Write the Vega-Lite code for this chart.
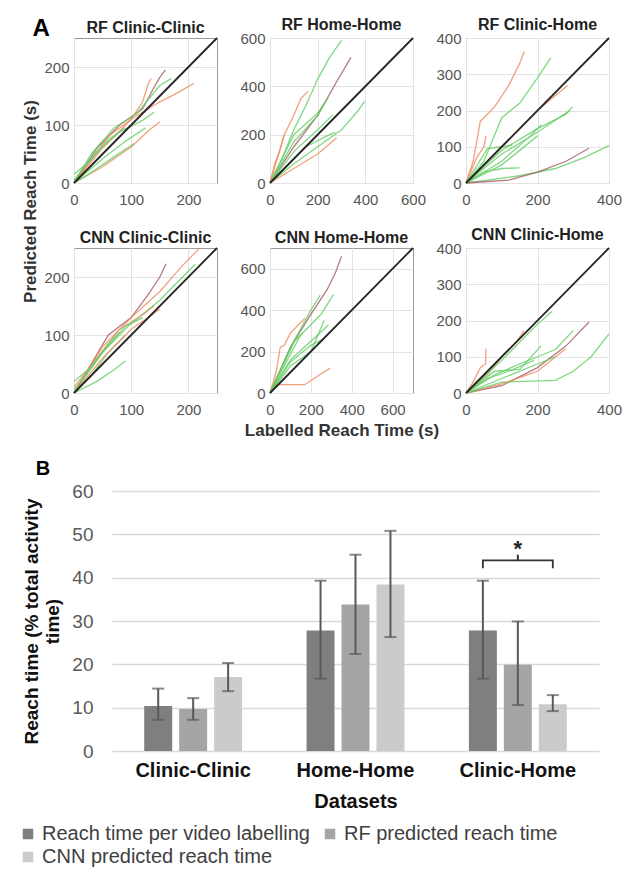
{
  "$schema": "https://vega.github.io/schema/vega-lite/v6.json",
  "padding": {"left": 18, "top": 16, "right": 5, "bottom": 5},
  "background": "white",
  "config": {
    "font": "Liberation Sans",
    "view": {"stroke": "#9a9a9a"},
    "axis": {"labelFont": "Liberation Sans", "labelFontSize": 15, "labelColor": "#555555", "gridColor": "#e3e3e3", "domain": false, "ticks": false, "labelPadding": 5, "labelFlush": false, "titleFont": "Liberation Sans", "titleFontWeight": "bold", "titleColor": "#333333", "titleFontSize": 17},
    "axisX": {"labelPadding": 9},
    "title": {"font": "Liberation Sans", "fontSize": 16, "fontWeight": "bold", "color": "#222222", "frame": "group", "offset": -2},
    "legend": {"labelFont": "Liberation Sans"}
  },
  "datasets": {
    "d250": [{"x": 0, "y": 0}, {"x": 250, "y": 250}],
    "d600": [{"x": 0, "y": 0}, {"x": 600, "y": 600}],
    "d400": [{"x": 0, "y": 0}, {"x": 400, "y": 400}],
    "d700": [{"x": 0, "y": 0}, {"x": 700, "y": 700}],
    "p1": [
      {"t": 1, "c": "o", "x": 0, "y": 0}, {"t": 1, "c": "o", "x": 50, "y": 60}, {"t": 1, "c": "o", "x": 100, "y": 110}, {"t": 1, "c": "o", "x": 150, "y": 140}, {"t": 1, "c": "o", "x": 180, "y": 155}, {"t": 1, "c": "o", "x": 210, "y": 172},
      {"t": 2, "c": "m", "x": 0, "y": 0}, {"t": 2, "c": "m", "x": 40, "y": 60}, {"t": 2, "c": "m", "x": 80, "y": 100}, {"t": 2, "c": "m", "x": 120, "y": 128}, {"t": 2, "c": "m", "x": 140, "y": 165}, {"t": 2, "c": "m", "x": 150, "y": 182}, {"t": 2, "c": "m", "x": 160, "y": 195},
      {"t": 3, "c": "o", "x": 0, "y": 0}, {"t": 3, "c": "o", "x": 30, "y": 40}, {"t": 3, "c": "o", "x": 60, "y": 80}, {"t": 3, "c": "o", "x": 100, "y": 110}, {"t": 3, "c": "o", "x": 120, "y": 140}, {"t": 3, "c": "o", "x": 130, "y": 172}, {"t": 3, "c": "o", "x": 135, "y": 180},
      {"t": 4, "c": "g", "x": 0, "y": 0}, {"t": 4, "c": "g", "x": 30, "y": 50}, {"t": 4, "c": "g", "x": 70, "y": 95}, {"t": 4, "c": "g", "x": 110, "y": 120}, {"t": 4, "c": "g", "x": 150, "y": 168}, {"t": 4, "c": "g", "x": 170, "y": 180},
      {"t": 5, "c": "o", "x": 0, "y": 0}, {"t": 5, "c": "o", "x": 50, "y": 28}, {"t": 5, "c": "o", "x": 100, "y": 62}, {"t": 5, "c": "o", "x": 130, "y": 90}, {"t": 5, "c": "o", "x": 150, "y": 105},
      {"t": 6, "c": "g", "x": 0, "y": 0}, {"t": 6, "c": "g", "x": 30, "y": 18}, {"t": 6, "c": "g", "x": 70, "y": 45}, {"t": 6, "c": "g", "x": 105, "y": 68},
      {"t": 7, "c": "g", "x": 0, "y": 5}, {"t": 7, "c": "g", "x": 40, "y": 55}, {"t": 7, "c": "g", "x": 80, "y": 88}, {"t": 7, "c": "g", "x": 120, "y": 108}, {"t": 7, "c": "g", "x": 140, "y": 122},
      {"t": 8, "c": "g", "x": 0, "y": 15}, {"t": 8, "c": "g", "x": 30, "y": 40}, {"t": 8, "c": "g", "x": 60, "y": 75}, {"t": 8, "c": "g", "x": 90, "y": 95},
      {"t": 9, "c": "g", "x": 0, "y": 0}, {"t": 9, "c": "g", "x": 50, "y": 42}, {"t": 9, "c": "g", "x": 90, "y": 72}, {"t": 9, "c": "g", "x": 125, "y": 95}
    ],
    "p2": [
      {"t": 1, "c": "g", "x": 0, "y": 0}, {"t": 1, "c": "g", "x": 50, "y": 100}, {"t": 1, "c": "g", "x": 100, "y": 220}, {"t": 1, "c": "g", "x": 150, "y": 320}, {"t": 1, "c": "g", "x": 200, "y": 430}, {"t": 1, "c": "g", "x": 250, "y": 520}, {"t": 1, "c": "g", "x": 300, "y": 590},
      {"t": 2, "c": "m", "x": 0, "y": 0}, {"t": 2, "c": "m", "x": 100, "y": 150}, {"t": 2, "c": "m", "x": 200, "y": 280}, {"t": 2, "c": "m", "x": 280, "y": 420}, {"t": 2, "c": "m", "x": 340, "y": 520},
      {"t": 3, "c": "o", "x": 0, "y": 0}, {"t": 3, "c": "o", "x": 30, "y": 100}, {"t": 3, "c": "o", "x": 60, "y": 200}, {"t": 3, "c": "o", "x": 100, "y": 280}, {"t": 3, "c": "o", "x": 130, "y": 350}, {"t": 3, "c": "o", "x": 160, "y": 380},
      {"t": 4, "c": "g", "x": 0, "y": 0}, {"t": 4, "c": "g", "x": 100, "y": 200}, {"t": 4, "c": "g", "x": 200, "y": 290}, {"t": 4, "c": "g", "x": 244, "y": 352},
      {"t": 5, "c": "g", "x": 0, "y": 0}, {"t": 5, "c": "g", "x": 100, "y": 80}, {"t": 5, "c": "g", "x": 200, "y": 150}, {"t": 5, "c": "g", "x": 300, "y": 220}, {"t": 5, "c": "g", "x": 370, "y": 300}, {"t": 5, "c": "g", "x": 397, "y": 338},
      {"t": 6, "c": "o", "x": 0, "y": 0}, {"t": 6, "c": "o", "x": 100, "y": 60}, {"t": 6, "c": "o", "x": 200, "y": 120}, {"t": 6, "c": "o", "x": 279, "y": 186},
      {"t": 7, "c": "g", "x": 0, "y": 0}, {"t": 7, "c": "g", "x": 100, "y": 130}, {"t": 7, "c": "g", "x": 200, "y": 220}, {"t": 7, "c": "g", "x": 265, "y": 283},
      {"t": 8, "c": "g", "x": 0, "y": 0}, {"t": 8, "c": "g", "x": 150, "y": 150}, {"t": 8, "c": "g", "x": 250, "y": 200}, {"t": 8, "c": "g", "x": 275, "y": 210},
      {"t": 9, "c": "g", "x": 0, "y": 0}, {"t": 9, "c": "g", "x": 100, "y": 170}, {"t": 9, "c": "g", "x": 200, "y": 280}, {"t": 9, "c": "g", "x": 230, "y": 330},
      {"t": 10, "c": "o", "x": 0, "y": 0}, {"t": 10, "c": "o", "x": 20, "y": 80}, {"t": 10, "c": "o", "x": 40, "y": 130}, {"t": 10, "c": "o", "x": 60, "y": 200}
    ],
    "p3": [
      {"t": 1, "c": "o", "x": 0, "y": 0}, {"t": 1, "c": "o", "x": 20, "y": 60}, {"t": 1, "c": "o", "x": 40, "y": 170}, {"t": 1, "c": "o", "x": 80, "y": 210}, {"t": 1, "c": "o", "x": 120, "y": 270}, {"t": 1, "c": "o", "x": 150, "y": 330}, {"t": 1, "c": "o", "x": 163, "y": 363},
      {"t": 2, "c": "o", "x": 0, "y": 0}, {"t": 2, "c": "o", "x": 30, "y": 70}, {"t": 2, "c": "o", "x": 50, "y": 100}, {"t": 2, "c": "o", "x": 56, "y": 131},
      {"t": 3, "c": "g", "x": 0, "y": 0}, {"t": 3, "c": "g", "x": 50, "y": 60}, {"t": 3, "c": "g", "x": 100, "y": 180}, {"t": 3, "c": "g", "x": 150, "y": 220}, {"t": 3, "c": "g", "x": 200, "y": 290}, {"t": 3, "c": "g", "x": 237, "y": 345},
      {"t": 4, "c": "o", "x": 0, "y": 0}, {"t": 4, "c": "o", "x": 100, "y": 100}, {"t": 4, "c": "o", "x": 200, "y": 200}, {"t": 4, "c": "o", "x": 284, "y": 269},
      {"t": 5, "c": "g", "x": 0, "y": 0}, {"t": 5, "c": "g", "x": 100, "y": 90}, {"t": 5, "c": "g", "x": 200, "y": 150}, {"t": 5, "c": "g", "x": 280, "y": 190}, {"t": 5, "c": "g", "x": 298, "y": 210},
      {"t": 6, "c": "g", "x": 0, "y": 0}, {"t": 6, "c": "g", "x": 100, "y": 80}, {"t": 6, "c": "g", "x": 200, "y": 140}, {"t": 6, "c": "g", "x": 290, "y": 200},
      {"t": 7, "c": "g", "x": 0, "y": 0}, {"t": 7, "c": "g", "x": 100, "y": 60}, {"t": 7, "c": "g", "x": 180, "y": 130}, {"t": 7, "c": "g", "x": 210, "y": 160},
      {"t": 8, "c": "g", "x": 0, "y": 0}, {"t": 8, "c": "g", "x": 150, "y": 20}, {"t": 8, "c": "g", "x": 250, "y": 40}, {"t": 8, "c": "g", "x": 330, "y": 70}, {"t": 8, "c": "g", "x": 400, "y": 103},
      {"t": 9, "c": "m", "x": 0, "y": 0}, {"t": 9, "c": "m", "x": 120, "y": 8}, {"t": 9, "c": "m", "x": 200, "y": 30}, {"t": 9, "c": "m", "x": 280, "y": 60}, {"t": 9, "c": "m", "x": 344, "y": 96},
      {"t": 10, "c": "g", "x": 0, "y": 0}, {"t": 10, "c": "g", "x": 100, "y": 50}, {"t": 10, "c": "g", "x": 150, "y": 90}, {"t": 10, "c": "g", "x": 200, "y": 130},
      {"t": 11, "c": "g", "x": 0, "y": 0}, {"t": 11, "c": "g", "x": 50, "y": 30}, {"t": 11, "c": "g", "x": 100, "y": 40}, {"t": 11, "c": "g", "x": 150, "y": 42},
      {"t": 12, "c": "g", "x": 0, "y": 0}, {"t": 12, "c": "g", "x": 60, "y": 95}, {"t": 12, "c": "g", "x": 100, "y": 100}, {"t": 12, "c": "g", "x": 130, "y": 105}
    ],
    "p4": [
      {"t": 1, "c": "m", "x": 0, "y": 0}, {"t": 1, "c": "m", "x": 30, "y": 50}, {"t": 1, "c": "m", "x": 60, "y": 100}, {"t": 1, "c": "m", "x": 100, "y": 130}, {"t": 1, "c": "m", "x": 130, "y": 170}, {"t": 1, "c": "m", "x": 150, "y": 200}, {"t": 1, "c": "m", "x": 161, "y": 223},
      {"t": 2, "c": "o", "x": 0, "y": 0}, {"t": 2, "c": "o", "x": 50, "y": 80}, {"t": 2, "c": "o", "x": 100, "y": 130}, {"t": 2, "c": "o", "x": 150, "y": 175}, {"t": 2, "c": "o", "x": 190, "y": 220}, {"t": 2, "c": "o", "x": 218, "y": 248},
      {"t": 3, "c": "g", "x": 0, "y": 0}, {"t": 3, "c": "g", "x": 50, "y": 70}, {"t": 3, "c": "g", "x": 100, "y": 120}, {"t": 3, "c": "g", "x": 150, "y": 160}, {"t": 3, "c": "g", "x": 212, "y": 222},
      {"t": 4, "c": "g", "x": 0, "y": 0}, {"t": 4, "c": "g", "x": 40, "y": 20}, {"t": 4, "c": "g", "x": 70, "y": 40}, {"t": 4, "c": "g", "x": 90, "y": 55},
      {"t": 5, "c": "o", "x": 0, "y": 10}, {"t": 5, "c": "o", "x": 40, "y": 60}, {"t": 5, "c": "o", "x": 80, "y": 110}, {"t": 5, "c": "o", "x": 120, "y": 135}, {"t": 5, "c": "o", "x": 140, "y": 150},
      {"t": 6, "c": "g", "x": 0, "y": 0}, {"t": 6, "c": "g", "x": 30, "y": 30}, {"t": 6, "c": "g", "x": 60, "y": 70}, {"t": 6, "c": "g", "x": 90, "y": 100},
      {"t": 7, "c": "o", "x": 0, "y": 0}, {"t": 7, "c": "o", "x": 50, "y": 60}, {"t": 7, "c": "o", "x": 100, "y": 110}, {"t": 7, "c": "o", "x": 130, "y": 130}, {"t": 7, "c": "o", "x": 150, "y": 145},
      {"t": 8, "c": "g", "x": 0, "y": 5}, {"t": 8, "c": "g", "x": 50, "y": 70}, {"t": 8, "c": "g", "x": 90, "y": 115}, {"t": 8, "c": "g", "x": 120, "y": 130},
      {"t": 9, "c": "g", "x": 0, "y": 20}, {"t": 9, "c": "g", "x": 30, "y": 45}, {"t": 9, "c": "g", "x": 60, "y": 85}, {"t": 9, "c": "g", "x": 80, "y": 105}
    ],
    "p5": [
      {"t": 1, "c": "m", "x": 0, "y": 0}, {"t": 1, "c": "m", "x": 100, "y": 220}, {"t": 1, "c": "m", "x": 200, "y": 380}, {"t": 1, "c": "m", "x": 280, "y": 500}, {"t": 1, "c": "m", "x": 320, "y": 580}, {"t": 1, "c": "m", "x": 350, "y": 660},
      {"t": 2, "c": "o", "x": 0, "y": 0}, {"t": 2, "c": "o", "x": 30, "y": 100}, {"t": 2, "c": "o", "x": 50, "y": 220}, {"t": 2, "c": "o", "x": 70, "y": 230}, {"t": 2, "c": "o", "x": 100, "y": 290}, {"t": 2, "c": "o", "x": 170, "y": 360},
      {"t": 3, "c": "g", "x": 0, "y": 0}, {"t": 3, "c": "g", "x": 100, "y": 220}, {"t": 3, "c": "g", "x": 200, "y": 400}, {"t": 3, "c": "g", "x": 245, "y": 472},
      {"t": 4, "c": "g", "x": 0, "y": 0}, {"t": 4, "c": "g", "x": 150, "y": 280}, {"t": 4, "c": "g", "x": 250, "y": 380}, {"t": 4, "c": "g", "x": 310, "y": 475},
      {"t": 5, "c": "g", "x": 0, "y": 0}, {"t": 5, "c": "g", "x": 100, "y": 160}, {"t": 5, "c": "g", "x": 200, "y": 250}, {"t": 5, "c": "g", "x": 286, "y": 328},
      {"t": 6, "c": "g", "x": 0, "y": 0}, {"t": 6, "c": "g", "x": 100, "y": 150}, {"t": 6, "c": "g", "x": 200, "y": 230}, {"t": 6, "c": "g", "x": 260, "y": 260},
      {"t": 7, "c": "o", "x": 0, "y": 0}, {"t": 7, "c": "o", "x": 30, "y": 40}, {"t": 7, "c": "o", "x": 100, "y": 40}, {"t": 7, "c": "o", "x": 170, "y": 40}, {"t": 7, "c": "o", "x": 230, "y": 80}, {"t": 7, "c": "o", "x": 294, "y": 120},
      {"t": 8, "c": "g", "x": 0, "y": 0}, {"t": 8, "c": "g", "x": 120, "y": 250}, {"t": 8, "c": "g", "x": 160, "y": 290},
      {"t": 9, "c": "g", "x": 0, "y": 0}, {"t": 9, "c": "g", "x": 100, "y": 130}, {"t": 9, "c": "g", "x": 200, "y": 200}, {"t": 9, "c": "g", "x": 265, "y": 350}
    ],
    "p6": [
      {"t": 1, "c": "o", "x": 0, "y": 0}, {"t": 1, "c": "o", "x": 20, "y": 30}, {"t": 1, "c": "o", "x": 40, "y": 70}, {"t": 1, "c": "o", "x": 55, "y": 80}, {"t": 1, "c": "o", "x": 56, "y": 122},
      {"t": 2, "c": "o", "x": 0, "y": 0}, {"t": 2, "c": "o", "x": 60, "y": 50}, {"t": 2, "c": "o", "x": 100, "y": 100}, {"t": 2, "c": "o", "x": 140, "y": 140}, {"t": 2, "c": "o", "x": 163, "y": 172},
      {"t": 3, "c": "g", "x": 0, "y": 0}, {"t": 3, "c": "g", "x": 100, "y": 90}, {"t": 3, "c": "g", "x": 200, "y": 190}, {"t": 3, "c": "g", "x": 240, "y": 225},
      {"t": 4, "c": "m", "x": 0, "y": 0}, {"t": 4, "c": "m", "x": 100, "y": 20}, {"t": 4, "c": "m", "x": 200, "y": 70}, {"t": 4, "c": "m", "x": 280, "y": 130}, {"t": 4, "c": "m", "x": 344, "y": 196},
      {"t": 5, "c": "o", "x": 0, "y": 0}, {"t": 5, "c": "o", "x": 100, "y": 25}, {"t": 5, "c": "o", "x": 200, "y": 60}, {"t": 5, "c": "o", "x": 279, "y": 122},
      {"t": 6, "c": "g", "x": 0, "y": 0}, {"t": 6, "c": "g", "x": 80, "y": 50}, {"t": 6, "c": "g", "x": 150, "y": 80}, {"t": 6, "c": "g", "x": 250, "y": 120}, {"t": 6, "c": "g", "x": 300, "y": 172},
      {"t": 7, "c": "g", "x": 0, "y": 0}, {"t": 7, "c": "g", "x": 100, "y": 30}, {"t": 7, "c": "g", "x": 250, "y": 35}, {"t": 7, "c": "g", "x": 300, "y": 60}, {"t": 7, "c": "g", "x": 350, "y": 100}, {"t": 7, "c": "g", "x": 400, "y": 163},
      {"t": 8, "c": "g", "x": 0, "y": 0}, {"t": 8, "c": "g", "x": 80, "y": 60}, {"t": 8, "c": "g", "x": 150, "y": 65}, {"t": 8, "c": "g", "x": 210, "y": 130},
      {"t": 9, "c": "g", "x": 0, "y": 0}, {"t": 9, "c": "g", "x": 100, "y": 40}, {"t": 9, "c": "g", "x": 200, "y": 80}, {"t": 9, "c": "g", "x": 250, "y": 100},
      {"t": 10, "c": "g", "x": 0, "y": 0}, {"t": 10, "c": "g", "x": 60, "y": 40}, {"t": 10, "c": "g", "x": 120, "y": 60}, {"t": 10, "c": "g", "x": 190, "y": 90}
    ],
    "bars": [
      {"d": "Clinic-Clinic", "s": "Reach time per video labelling", "v": 10.4, "lo": 7.2, "hi": 14.4},
      {"d": "Clinic-Clinic", "s": "RF predicted reach time", "v": 9.7, "lo": 7.2, "hi": 12.2},
      {"d": "Clinic-Clinic", "s": "CNN predicted reach time", "v": 17.1, "lo": 13.8, "hi": 20.3},
      {"d": "Home-Home", "s": "Reach time per video labelling", "v": 27.8, "lo": 16.7, "hi": 39.3},
      {"d": "Home-Home", "s": "RF predicted reach time", "v": 33.8, "lo": 22.4, "hi": 45.3},
      {"d": "Home-Home", "s": "CNN predicted reach time", "v": 38.4, "lo": 26.3, "hi": 50.8},
      {"d": "Clinic-Home", "s": "Reach time per video labelling", "v": 27.8, "lo": 16.7, "hi": 39.3},
      {"d": "Clinic-Home", "s": "RF predicted reach time", "v": 19.9, "lo": 10.6, "hi": 29.9},
      {"d": "Clinic-Home", "s": "CNN predicted reach time", "v": 10.8, "lo": 9.2, "hi": 12.9}
    ],
    "bracket": [
      {"d": "Clinic-Home", "s": "Reach time per video labelling", "y": 42.2, "o": 1},
      {"d": "Clinic-Home", "s": "Reach time per video labelling", "y": 44, "o": 2},
      {"d": "Clinic-Home", "s": "CNN predicted reach time", "y": 44, "o": 3},
      {"d": "Clinic-Home", "s": "CNN predicted reach time", "y": 42.2, "o": 4}
    ],
    "star": [
      {"d": "Clinic-Home", "s": "RF predicted reach time", "y": 44, "y2": 45.3, "ty": 46.6, "label": "*"}
    ]
  },
  "spacing": 20,
  "resolve": {"scale": {"x": "independent", "y": "independent", "color": "independent", "xOffset": "independent"}},
  "vconcat": [
    {
      "title": {"text": "A", "anchor": "start", "frame": "bounds", "fontSize": 24, "color": "#000000", "offset": -24, "dx": 10},
      "hconcat": [
        {
          "title": {"text": "Predicted Reach Time (s)", "orient": "left", "anchor": "middle", "frame": "bounds", "fontSize": 17, "color": "#333333", "offset": 3, "dx": 26},
          "bounds": "flush",
          "columns": 3,
          "spacing": {"row": 65, "column": 53},
          "resolve": {"scale": {"x": "independent", "y": "independent"}},
          "concat": [
            {
              "width": 143, "height": 145,
              "title": {"text": "RF Clinic-Clinic"},
              "encoding": {
                "x": {"field": "x", "type": "quantitative", "title": null, "scale": {"domain": [0, 250], "nice": false}, "axis": {"values": [0, 100, 200]}},
                "y": {"field": "y", "type": "quantitative", "title": null, "scale": {"domain": [0, 250], "nice": false}, "axis": {"values": [0, 100, 200]}}
              },
              "layer": [
                {"data": {"name": "p1"}, "mark": {"type": "line", "strokeWidth": 1.3, "opacity": 0.8}, "encoding": {"color": {"field": "c", "type": "nominal", "scale": {"domain": ["o", "g", "m"], "range": ["#ee8a5e", "#62cd62", "#a35a63"]}, "legend": null}, "detail": {"field": "t", "type": "nominal"}}},
                {"data": {"name": "d250"}, "mark": {"type": "line", "color": "#262626", "strokeWidth": 1.8}, "encoding": {}}
              ]
            },
            {
              "width": 143, "height": 145,
              "title": {"text": "RF Home-Home"},
              "encoding": {
                "x": {"field": "x", "type": "quantitative", "title": null, "scale": {"domain": [0, 600], "nice": false}, "axis": {"values": [0, 200, 400, 600]}},
                "y": {"field": "y", "type": "quantitative", "title": null, "scale": {"domain": [0, 600], "nice": false}, "axis": {"values": [0, 200, 400, 600]}}
              },
              "layer": [
                {"data": {"name": "p2"}, "mark": {"type": "line", "strokeWidth": 1.3, "opacity": 0.8}, "encoding": {"color": {"field": "c", "type": "nominal", "scale": {"domain": ["o", "g", "m"], "range": ["#ee8a5e", "#62cd62", "#a35a63"]}, "legend": null}, "detail": {"field": "t", "type": "nominal"}}},
                {"data": {"name": "d600"}, "mark": {"type": "line", "color": "#262626", "strokeWidth": 1.8}, "encoding": {}}
              ]
            },
            {
              "width": 143, "height": 145,
              "title": {"text": "RF Clinic-Home"},
              "encoding": {
                "x": {"field": "x", "type": "quantitative", "title": null, "scale": {"domain": [0, 400], "nice": false}, "axis": {"values": [0, 200, 400]}},
                "y": {"field": "y", "type": "quantitative", "title": null, "scale": {"domain": [0, 400], "nice": false}, "axis": {"values": [0, 100, 200, 300, 400]}}
              },
              "layer": [
                {"data": {"name": "p3"}, "mark": {"type": "line", "strokeWidth": 1.3, "opacity": 0.8}, "encoding": {"color": {"field": "c", "type": "nominal", "scale": {"domain": ["o", "g", "m"], "range": ["#ee8a5e", "#62cd62", "#a35a63"]}, "legend": null}, "detail": {"field": "t", "type": "nominal"}}},
                {"data": {"name": "d400"}, "mark": {"type": "line", "color": "#262626", "strokeWidth": 1.8}, "encoding": {}}
              ]
            },
            {
              "width": 143, "height": 145,
              "title": {"text": "CNN Clinic-Clinic"},
              "encoding": {
                "x": {"field": "x", "type": "quantitative", "title": null, "scale": {"domain": [0, 250], "nice": false}, "axis": {"values": [0, 100, 200]}},
                "y": {"field": "y", "type": "quantitative", "title": null, "scale": {"domain": [0, 250], "nice": false}, "axis": {"values": [0, 100, 200]}}
              },
              "layer": [
                {"data": {"name": "p4"}, "mark": {"type": "line", "strokeWidth": 1.3, "opacity": 0.8}, "encoding": {"color": {"field": "c", "type": "nominal", "scale": {"domain": ["o", "g", "m"], "range": ["#ee8a5e", "#62cd62", "#a35a63"]}, "legend": null}, "detail": {"field": "t", "type": "nominal"}}},
                {"data": {"name": "d250"}, "mark": {"type": "line", "color": "#262626", "strokeWidth": 1.8}, "encoding": {}}
              ]
            },
            {
              "width": 143, "height": 145,
              "title": {"text": "CNN Home-Home"},
              "encoding": {
                "x": {"field": "x", "type": "quantitative", "title": "Labelled Reach Time (s)", "scale": {"domain": [0, 700], "nice": false}, "axis": {"values": [0, 200, 400, 600], "titlePadding": 5}},
                "y": {"field": "y", "type": "quantitative", "title": null, "scale": {"domain": [0, 700], "nice": false}, "axis": {"values": [0, 200, 400, 600]}}
              },
              "layer": [
                {"data": {"name": "p5"}, "mark": {"type": "line", "strokeWidth": 1.3, "opacity": 0.8}, "encoding": {"color": {"field": "c", "type": "nominal", "scale": {"domain": ["o", "g", "m"], "range": ["#ee8a5e", "#62cd62", "#a35a63"]}, "legend": null}, "detail": {"field": "t", "type": "nominal"}}},
                {"data": {"name": "d700"}, "mark": {"type": "line", "color": "#262626", "strokeWidth": 1.8}, "encoding": {}}
              ]
            },
            {
              "width": 143, "height": 145,
              "title": {"text": "CNN Clinic-Home"},
              "encoding": {
                "x": {"field": "x", "type": "quantitative", "title": null, "scale": {"domain": [0, 400], "nice": false}, "axis": {"values": [0, 200, 400]}},
                "y": {"field": "y", "type": "quantitative", "title": null, "scale": {"domain": [0, 400], "nice": false}, "axis": {"values": [0, 100, 200, 300, 400]}}
              },
              "layer": [
                {"data": {"name": "p6"}, "mark": {"type": "line", "strokeWidth": 1.3, "opacity": 0.8}, "encoding": {"color": {"field": "c", "type": "nominal", "scale": {"domain": ["o", "g", "m"], "range": ["#ee8a5e", "#62cd62", "#a35a63"]}, "legend": null}, "detail": {"field": "t", "type": "nominal"}}},
                {"data": {"name": "d400"}, "mark": {"type": "line", "color": "#262626", "strokeWidth": 1.8}, "encoding": {}}
              ]
            }
          ]
        }
      ]
    },
    {
      "bounds": "flush",
      "spacing": 37,
      "hconcat": [
        {"width": 1, "height": 260, "data": {"values": []}, "mark": "point", "view": {"stroke": null}},
        {
          "width": 487, "height": 260,
          "title": {"text": "B", "anchor": "start", "frame": "bounds", "fontSize": 20, "color": "#000000", "offset": 3, "dx": 13},
          "view": {"stroke": null},
          "encoding": {
            "x": {"field": "d", "type": "nominal", "title": "Datasets", "sort": ["Clinic-Clinic", "Home-Home", "Clinic-Home"], "scale": {"paddingInner": 0.354, "paddingOuter": 0.177}, "axis": {"labelAngle": 0, "labelFontSize": 20, "labelFontWeight": "bold", "labelColor": "#111111", "labelPadding": 9, "titleFontSize": 20, "titleColor": "#111111", "titlePadding": 11, "grid": false}},
            "xOffset": {"field": "s", "type": "nominal", "sort": ["Reach time per video labelling", "RF predicted reach time", "CNN predicted reach time"], "scale": {"paddingInner": 0.2, "paddingOuter": 0.1}}
          },
          "layer": [
            {"data": {"name": "bars"}, "mark": {"type": "bar"},
             "encoding": {
               "y": {"field": "v", "type": "quantitative", "title": ["Reach time (% total activity", "time)"], "scale": {"domain": [0, 60]}, "axis": {"values": [0, 10, 20, 30, 40, 50, 60], "labelFontSize": 19, "labelColor": "#595959", "labelPadding": 19, "gridColor": "#d9d9d9", "gridWidth": 1.5, "titleFontSize": 19, "titleColor": "#111111", "titlePadding": 9, "titleLineHeight": 21}},
               "color": {"field": "s", "type": "nominal", "scale": {"domain": ["Reach time per video labelling", "RF predicted reach time", "CNN predicted reach time"], "range": ["#7f7f7f", "#a5a5a5", "#cbcbcb"]},
                 "legend": {"orient": "none", "legendX": -56, "legendY": 333, "direction": "horizontal", "columns": 2, "title": null, "symbolType": "square", "symbolSize": 110, "symbolStrokeWidth": 0, "labelFontSize": 20, "labelColor": "#404040", "labelLimit": 0, "columnPadding": 10, "rowPadding": 3, "labelOffset": 4}}
             }},
            {"data": {"name": "bars"}, "mark": {"type": "rule", "color": "#595959", "strokeWidth": 2},
             "encoding": {"y": {"field": "lo", "type": "quantitative", "title": ["Reach time (% total activity", "time)"]}, "y2": {"field": "hi"}}},
            {"data": {"name": "bars"}, "mark": {"type": "tick", "color": "#595959", "thickness": 2, "size": 12},
             "encoding": {"y": {"field": "lo", "type": "quantitative", "title": ["Reach time (% total activity", "time)"]}}},
            {"data": {"name": "bars"}, "mark": {"type": "tick", "color": "#595959", "thickness": 2, "size": 12},
             "encoding": {"y": {"field": "hi", "type": "quantitative", "title": ["Reach time (% total activity", "time)"]}}},
            {"data": {"name": "bracket"}, "mark": {"type": "line", "color": "#333333", "strokeWidth": 1.8},
             "encoding": {"y": {"field": "y", "type": "quantitative", "title": ["Reach time (% total activity", "time)"]}, "order": {"field": "o"}}},
            {"data": {"name": "star"}, "mark": {"type": "rule", "color": "#333333", "strokeWidth": 2},
             "encoding": {"y": {"field": "y", "type": "quantitative", "title": ["Reach time (% total activity", "time)"]}, "y2": {"field": "y2"}}},
            {"data": {"name": "star"}, "mark": {"type": "text", "fontSize": 22, "fontWeight": "bold", "color": "#222222", "baseline": "middle"},
             "encoding": {"y": {"field": "ty", "type": "quantitative", "title": ["Reach time (% total activity", "time)"]}, "text": {"field": "label"}}}
          ]
        }
      ]
    }
  ]
}
